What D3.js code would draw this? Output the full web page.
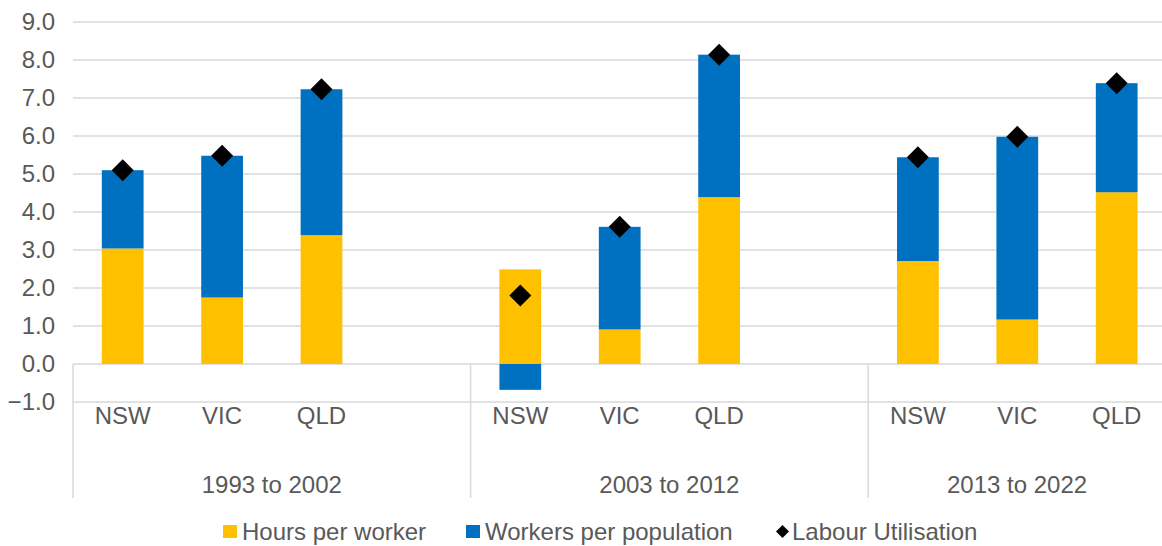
<!DOCTYPE html>
<html lang="en">
<head>
  <meta charset="UTF-8">
  <title>Labour utilisation decomposition</title>
  <style>
    body { margin: 0; background: #fff; font-family: "Liberation Sans", Arial, sans-serif; }
    text { fill: #595959; }
  </style>
  <script src="https://cdn.jsdelivr.net/npm/d3@7"></script>
</head>
<body>
  <script>
    var periods = ["1993 to 2002", "2003 to 2012", "2013 to 2022"];
    var states = ["NSW", "VIC", "QLD"];
    // one value per period x state, in the order above
    var hoursPerWorker      = [3.04, 1.75, 3.39,  2.49, 0.91, 4.39,  2.71, 1.17, 4.52];
    var workersPerPop       = [2.06, 3.73, 3.84, -0.68, 2.70, 3.75,  2.73, 4.81, 2.87];
    var labourUtilisation   = [5.10, 5.48, 7.23,  1.80, 3.61, 8.14,  5.44, 5.98, 7.39];
    var yTicks = [-1, 0, 1, 2, 3, 4, 5, 6, 7, 8, 9];

    var W = 1162, H = 546;
    var plotLeft = 73, plotTop = 22, zeroY = 364;
    var slotW = 99.4;            // each period has 3 states + an empty slot
    var plotRight = plotLeft + slotW * 12;
    var fs = "24px";

    var data = [];
    periods.forEach(function(p, i) {
      states.forEach(function(s, j) {
        var k = i * 3 + j;
        data.push({ key: p + "|" + s, period: p, state: s,
          hours: hoursPerWorker[k], workers: workersPerPop[k], util: labourUtilisation[k] });
      });
    });

    var slots = [];
    periods.forEach(function(p) {
      states.forEach(function(s) { slots.push(p + "|" + s); });
      slots.push(p + "|blank");
    });

    var x = d3.scaleBand().domain(slots).range([plotLeft, plotRight]).paddingInner(0.58).paddingOuter(0.29);
    var y = d3.scaleLinear().domain([-1, 9]).range([zeroY + (zeroY - plotTop) / 9, plotTop]);

    var svg = d3.select("body").append("svg").attr("width", W).attr("height", H);

    // gridlines
    svg.append("g").selectAll("line").data(yTicks).enter().append("line")
      .attr("x1", plotLeft).attr("x2", W)
      .attr("y1", function(d) { return y(d); }).attr("y2", function(d) { return y(d); })
      .attr("stroke", "#d9d9d9").attr("stroke-width", 1.5);

    svg.append("g").selectAll("text").data(yTicks).enter().append("text")
      .attr("x", 55).attr("y", function(d) { return y(d); })
      .attr("dy", "0.35em").attr("text-anchor", "end")
      .style("font-size", fs)
      .text(function(d) { return d3.format(".1f")(d); });

    // group separators
    var groupW = slotW * 4;
    var seps = periods.map(function(p, i) { return plotLeft + i * groupW; });
    svg.append("g").selectAll("line").data(seps).enter().append("line")
      .attr("x1", function(d) { return d; }).attr("x2", function(d) { return d; })
      .attr("y1", y(0)).attr("y2", 498)
      .attr("stroke", "#d9d9d9").attr("stroke-width", 1.5);

    // stacked bars
    var stack = d3.stack().keys(["hours", "workers"]).offset(d3.stackOffsetDiverging);
    var series = stack(data);
    var colors = { hours: "#FFC000", workers: "#0070C0" };

    svg.append("g").selectAll("g").data(series).enter().append("g")
      .attr("fill", function(s) { return colors[s.key]; })
      .selectAll("rect").data(function(s) { return s; }).enter().append("rect")
      .attr("x", function(d) { return x(d.data.key); })
      .attr("width", x.bandwidth())
      .attr("y", function(d) { return y(Math.max(d[0], d[1])); })
      .attr("height", function(d) { return Math.abs(y(d[0]) - y(d[1])); });

    // diamonds
    var diamond = d3.symbol().type(d3.symbolSquare).size(242);
    svg.append("g").selectAll("path").data(data).enter().append("path")
      .attr("d", diamond)
      .attr("fill", "#000")
      .attr("transform", function(d) {
        return "translate(" + (x(d.key) + x.bandwidth() / 2) + "," + y(d.util) + ")rotate(45)";
      });

    // category labels
    svg.append("g").selectAll("text").data(data).enter().append("text")
      .attr("x", function(d) { return x(d.key) + x.bandwidth() / 2; })
      .attr("y", 416).attr("dy", "0.35em").attr("text-anchor", "middle")
      .style("font-size", fs)
      .text(function(d) { return d.state; });

    svg.append("g").selectAll("text").data(periods).enter().append("text")
      .attr("x", function(d, i) {
        var a = plotLeft + i * groupW, b = Math.min(a + groupW, W + 4);
        return (a + b) / 2;
      })
      .attr("y", 485).attr("dy", "0.35em").attr("text-anchor", "middle")
      .style("font-size", fs)
      .text(function(d) { return d; });

    // legend
    var legend = [
      { label: "Hours per worker", color: "#FFC000", x: 223, kind: "rect" },
      { label: "Workers per population", color: "#0070C0", x: 466, kind: "rect" },
      { label: "Labour Utilisation", color: "#000", x: 776, kind: "diamond" }
    ];
    var lg = svg.append("g").selectAll("g").data(legend).enter().append("g")
      .attr("transform", function(d) { return "translate(" + d.x + ",531.5)"; });
    lg.filter(function(d) { return d.kind === "rect"; }).append("rect")
      .attr("x", 0).attr("y", -6.5).attr("width", 14).attr("height", 13)
      .attr("fill", function(d) { return d.color; });
    lg.filter(function(d) { return d.kind === "diamond"; }).append("path")
      .attr("d", d3.symbol().type(d3.symbolSquare).size(85))
      .attr("transform", "translate(6.5,0)rotate(45)")
      .attr("fill", "#000");
    lg.append("text")
      .attr("x", function(d) { return d.kind === "rect" ? 19 : 16; })
      .attr("dy", "0.35em")
      .style("font-size", fs)
      .text(function(d) { return d.label; });
  </script>
</body>
</html>
